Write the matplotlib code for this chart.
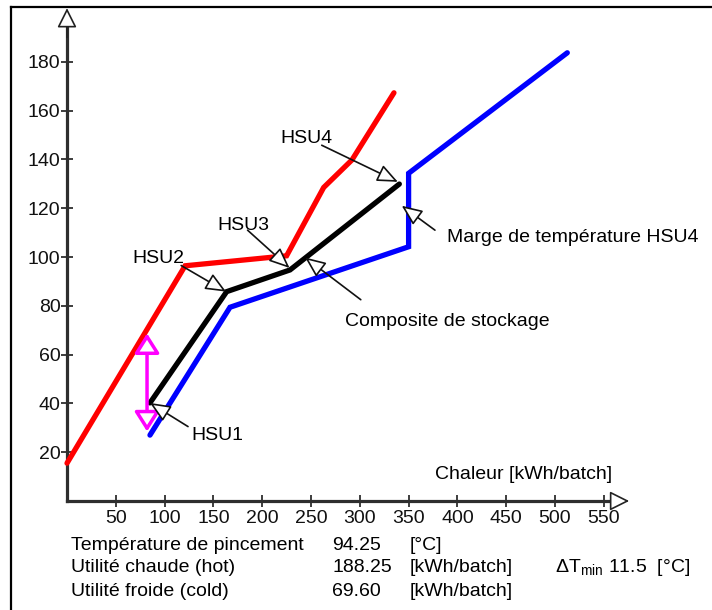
import matplotlib
matplotlib.use("Agg")
import matplotlib.pyplot as plt
from matplotlib.lines import Line2D

plt.rcParams['font.family'] = ['Liberation Sans', 'DejaVu Sans']
plt.rcParams['mathtext.fontset'] = 'custom'
plt.rcParams['mathtext.rm'] = 'Liberation Sans'
plt.rcParams['mathtext.it'] = 'Liberation Sans'

# composite curves (heat kWh/batch, temperature degC)
hot_q = [0, 121, 225, 263, 292, 335]
hot_t = [15.5, 96.4, 100.5, 128.5, 139.8, 167.3]
store_q = [85, 163.6, 228.5, 340.5]
store_t = [40.2, 85.8, 94.7, 129.9]
cold_q = [85, 167, 350, 350, 512.6]
cold_t = [27, 79.4, 104.2, 134.3, 183.7]

# pinch margin arrow
margin_q = 82
margin_t = [28.5, 68.7]

xticks = [50, 100, 150, 200, 250, 300, 350, 400, 450, 500, 550]
yticks = [20, 40, 60, 80, 100, 120, 140, 160, 180]

# annotations: label, text position, arrow start, arrow tip
notes = [
    ("HSU1", (154.5, 27), (124, 30.5), (85, 40.2)),
    ("HSU2", (93.7, 99.2), (117, 96.5), (163, 85.8)),
    ("HSU3", (180.8, 112.8), (185, 111), (228, 95.5)),
    ("HSU4", (245.4, 148.6), (261, 145.8), (339, 130.8)),
]
comp_label = "Composite de stockage"
comp_text = (284.8, 73.4)
comp_start = (301, 82.5)
comp_tip = (244, 99.8)
marge_label = "Marge de température HSU4"
marge_text = (388.9, 108)
marge_start = (377, 111)
marge_tip = (343, 121)

summary_labels = ["Température de pincement", "Utilité chaude (hot)", "Utilité froide (cold)"]
summary_values = ["94.25", "188.25", "69.60"]
summary_units = ["[°C]", "[kWh/batch]", "[kWh/batch]"]

FS = 14
W, H = 712, 610
fig = plt.figure(figsize=(W / 100, H / 100), dpi=100)
ax = fig.add_axes([0, 0, 1, 1])

# pixel -> data scale: origin at (67, 501), 0.976 px/kWh, 2.44 px/degC
x0, y0, sx, sy = 67, 501, 0.976, 2.44
ax.set_xlim(-x0 / sx, (W - x0) / sx)
ax.set_ylim(-(H - y0) / sy, y0 / sy)
ax.patch.set_alpha(0)

axis_col = '#2e2e2e'
for side in ['top', 'right']:
    ax.spines[side].set_visible(False)
ax.spines['left'].set_position(('data', 0))
ax.spines['bottom'].set_position(('data', 0))
ax.spines['left'].set_bounds(0, 195)
ax.spines['bottom'].set_bounds(0, 565)
for side in ['left', 'bottom']:
    ax.spines[side].set_color(axis_col)
    ax.spines[side].set_linewidth(2.3)

ax.set_xticks(xticks)
ax.set_yticks(yticks)
ax.tick_params(axis='both', direction='inout', length=8.6, width=1.3,
               color=axis_col, labelsize=FS, labelcolor='#111111')
ax.tick_params(axis='y', pad=0.3)
ax.tick_params(axis='x', pad=2.5)

# axis arrow heads (open triangles)
head = dict(arrowstyle='-|>,head_length=0.6,head_width=0.3', fc='white',
            ec='#222222', lw=1.2, mutation_scale=20, shrinkA=0, shrinkB=0)
ax.annotate('', xy=(0, 202), xytext=(0, 190), arrowprops=head)
ax.annotate('', xy=(576, 0), xytext=(562, 0), arrowprops=head)

ax.text(377, 7.5, "Chaleur [kWh/batch]", fontsize=FS, ha='left', va='bottom')

ax.plot(hot_q, hot_t, color='#ff0000', lw=3.8, solid_capstyle='round', solid_joinstyle='miter', zorder=3)
ax.plot(cold_q, cold_t, color='#0000ff', lw=3.8, solid_capstyle='round', solid_joinstyle='miter', zorder=3)
ax.plot(store_q, store_t, color='black', lw=3.8, solid_capstyle='round', solid_joinstyle='miter', zorder=4)

ax.annotate('', xy=(margin_q, margin_t[1]), xytext=(margin_q, margin_t[0]),
            arrowprops=dict(arrowstyle='<|-|>,head_length=0.6,head_width=0.38',
                            fc='white', ec='#ff00ff', lw=2.5, mutation_scale=20,
                            shrinkA=0, shrinkB=0), zorder=5)

note_arrow = dict(arrowstyle='-|>,head_length=0.7,head_width=0.3', fc='white',
                  ec='#111111', lw=1.2, mutation_scale=18, shrinkA=0, shrinkB=0)
for label, txt, start, tip in notes:
    ax.text(txt[0], txt[1], label, fontsize=FS, ha='center', va='center', zorder=6)
    ax.annotate('', xy=tip, xytext=start, arrowprops=note_arrow, zorder=6)

ax.text(*comp_text, comp_label, fontsize=FS, ha='left', va='center')
ax.annotate('', xy=comp_tip, xytext=comp_start, arrowprops=note_arrow, zorder=6)
ax.text(*marge_text, marge_label, fontsize=FS, ha='left', va='center')
ax.annotate('', xy=marge_tip, xytext=marge_start, arrowprops=note_arrow, zorder=6)

# summary table below the chart
rows_y = [545, 568, 592]
for py, lab, val, unit in zip(rows_y, summary_labels, summary_values, summary_units):
    fy = 1 - py / H
    fig.text(71 / W, fy, lab, fontsize=FS, va='center')
    fig.text(332 / W, fy, val, fontsize=FS, va='center')
    fig.text(410 / W, fy, unit, fontsize=FS, va='center')
fig.text(555 / W, 1 - 568 / H, r"ΔT$_{\mathrm{min}}$ 11.5  [°C]", fontsize=FS, va='center')

# outer frame
fig.add_artist(Line2D([11 / W, 11 / W], [0, 1 - 7 / H], color='black', lw=1.6))
fig.add_artist(Line2D([11 / W, 1], [1 - 7 / H, 1 - 7 / H], color='black', lw=1.6))

fig.savefig('out.png', dpi=100)
